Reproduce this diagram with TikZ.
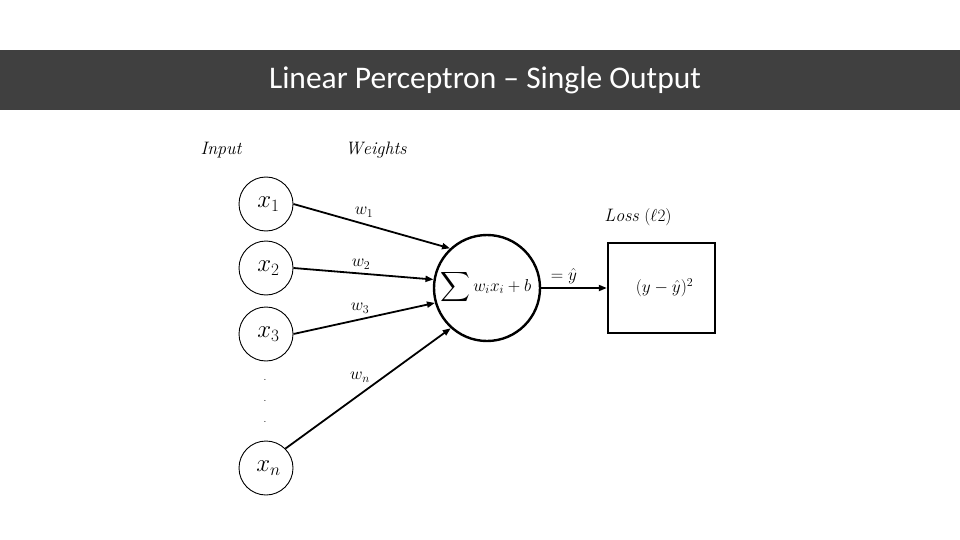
\documentclass[tikz,border=0pt]{standalone}
\usepackage{fontspec}
\usepackage{exscale}
\newfontfamily\titlefont{Carlito}
\usetikzlibrary{arrows.meta}
\definecolor{barcol}{HTML}{404040}
\tikzset{
  inp/.style={circle,draw,line width=0.9pt,minimum size=54pt,inner sep=0pt,font=\fontsize{23}{26}\selectfont},
  wlab/.style={font=\fontsize{18}{20}\selectfont},
  hdr/.style={font=\fontsize{18}{20}\selectfont},
  mathlab/.style={font=\fontsize{18}{20}\selectfont},
  edge/.style={line width=1.8pt,-{Triangle[length=8pt,width=6pt]}},
}
\begin{document}
\begin{tikzpicture}[x=1pt,y=-1pt]
\useasboundingbox (0,0) rectangle (960,540);
\fill[white] (0,0) rectangle (960,540);
\fill[barcol] (0,50) rectangle (960,110);
\node[text=white,anchor=base,inner sep=0pt,font=\titlefont\fontsize{31.5}{34}\selectfont] (title) at (485,89) {Linear Perceptron – Single Output};
\node[hdr] (inlab) at (221,150) {$\mathit{Input}$};
\node[hdr] (wlab) at (376,150) {$\mathit{Weights}$};
\node[inp] (x1) at (266,204) {\hspace{5pt}$x_1$};
\node[inp] (x2) at (266,268) {\hspace{5pt}$x_2$};
\node[inp] (x3) at (266,334) {\hspace{5pt}$x_3$};
\node[inp] (xn) at (266,468) {\hspace{5pt}$x_n$};
\node (d1) at (265,380) {.};
\node (d2) at (265,401) {.};
\node (d3) at (265,422) {.};
\node[circle,draw,line width=2.4pt,minimum size=106pt,inner sep=0pt] (s) at (487,288) {};
\node[font=\fontsize{18}{20}\selectfont,inner sep=0pt] (stxt) at (486,287) {$\mathop{\vcenter{\hbox{\scalebox{1.2}{$\displaystyle\sum$}}}} w_i x_i + b$};
\node[draw,line width=2.4pt,minimum width=107pt,minimum height=90pt,mathlab] (box) at (661.5,288) {\hspace{6pt}$(y-\hat{y})^2$};
\node[hdr] (losslab) at (638,217) {$\mathit{Loss}\ (\ell 2)$};
\draw[edge] (x1.east) -- (s.133);
\draw[edge] (x2.east) -- (s.171);
\draw[edge] (x3.east) -- (s.196);
\draw[edge] (xn.45) -- (s.228);
\draw[edge] (s.east) -- (box.west);
\node[mathlab,inner sep=0pt] (yhat) at (564,276) {$=\hat{y}$};
\node[wlab] (w1) at (364,212) {$w_1$};
\node[wlab] (w2) at (361,264) {$w_2$};
\node[wlab] (w3) at (360,308) {$w_3$};
\node[wlab] (wn) at (360,377) {$w_n$};
\end{tikzpicture}
\end{document}
